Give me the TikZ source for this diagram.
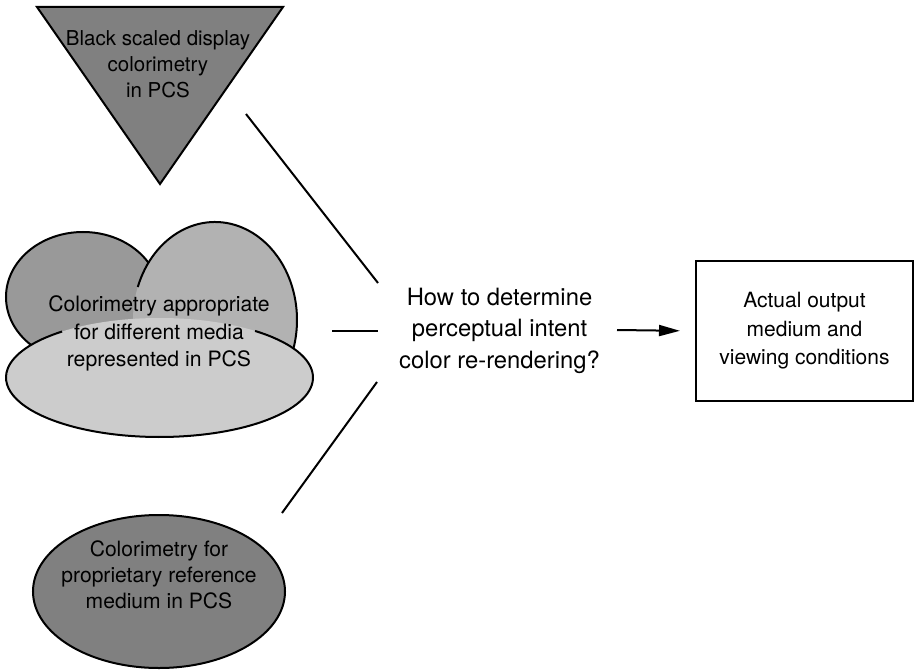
\documentclass[tikz,border=0pt]{standalone}
\usepackage{fontspec}
\setmainfont{TeX Gyre Heros}
\usetikzlibrary{arrows.meta}
\definecolor{darkfill}{gray}{0.5}
\definecolor{lobeleft}{gray}{0.6}
\definecolor{loberight}{gray}{0.7}
\definecolor{lobebase}{gray}{0.8}
\begin{document}
\begin{tikzpicture}[x=1pt,y=-1pt,
  outline/.style={draw=black,line width=2pt,line join=miter},
  caption/.style={align=center,inner sep=0pt,text=black},
  link/.style={draw=black,line width=2pt},
]
\useasboundingbox (0,0) rectangle (918,671);

% downward triangle: black scaled display colorimetry
\draw[outline,fill=darkfill] (37,7) -- (283,7) -- (160,184) -- cycle;
\node[caption,font=\fontsize{20.5}{26.2}\selectfont] (display) at (158,64)
  {Black scaled display\\colorimetry\\in PCS};

% cloud of three overlapping ellipses: media colorimetry
\fill[lobeleft] (83,297) ellipse [x radius=77,y radius=65];
\draw[outline] (83,297) ellipse [x radius=77,y radius=65];
\fill[loberight] (215,320) ellipse [x radius=82,y radius=98];
\draw[outline] (215,320) ++(199.7:82 and 98)
  arc[start angle=199.7,end angle=380,x radius=82,y radius=98];
\fill[lobebase] (159.5,377.5) ellipse [x radius=153.5,y radius=59.5];
\draw[outline] (159.5,377.5) ++(308.5:153.5 and 59.5)
  arc[start angle=308.5,end angle=590.6,x radius=153.5,y radius=59.5];
\node[caption,font=\fontsize{21.2}{27.3}\selectfont] (media) at (159,333.5)
  {Colorimetry appropriate\\for different media\\represented in PCS};

% ellipse: proprietary reference medium
\draw[outline,fill=darkfill] (159,591.5) ellipse [x radius=126,y radius=76.5];
\node[caption,font=\fontsize{21.1}{26.3}\selectfont] (reference) at (159,574.7)
  {Colorimetry for\\proprietary reference\\medium in PCS};

% central question
\node[caption,font=\fontsize{23.8}{31.5}\selectfont] (question) at (499.5,330.5)
  {How to determine\\perceptual intent\\color re-rendering?};

% output box
\node[draw=black,line width=2pt,minimum width=217pt,minimum height=140pt,
  align=center,inner sep=0pt,font=\fontsize{21}{28.5}\selectfont] (output) at (804.5,331)
  {Actual output\\medium and\\viewing conditions};

% connectors
\coordinate (topA) at (246,114);
\coordinate (topB) at (378,283);
\coordinate (midA) at (332,331);
\coordinate (midB) at (378,331);
\coordinate (lowA) at (377,382);
\coordinate (lowB) at (282,513);
\coordinate (arrowA) at (617,330);
\draw[link] (topA) -- (topB);
\draw[link] (midA) -- (midB);
\draw[link] (lowA) -- (lowB);
\draw[link,-{Triangle[length=21pt,width=11pt]},shorten >=15pt] (arrowA) -- (output.west);
\end{tikzpicture}
\end{document}
